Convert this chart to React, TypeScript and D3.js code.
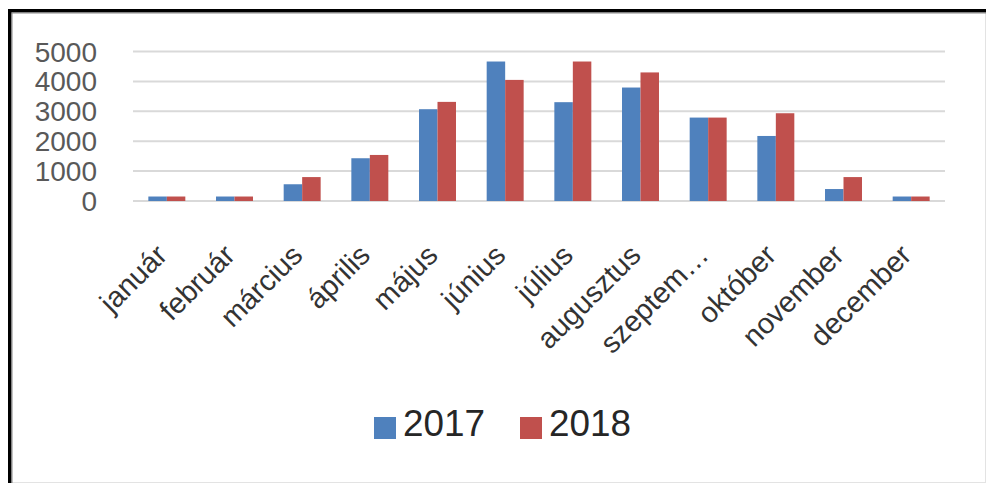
import React from "react";
import * as d3 from "d3";

const months = ["január", "február", "március", "április", "május", "június", "július", "augusztus", "szeptem…", "október", "november", "december"];
const series = ["2017", "2018"];
const values2017 = [150, 150, 560, 1430, 3070, 4665, 3305, 3795, 2790, 2175, 400, 150];
const values2018 = [150, 150, 800, 1540, 3315, 4050, 4665, 4300, 2790, 2935, 800, 150];
const yTicks = [0, 1000, 2000, 3000, 4000, 5000];
const colors = ["#4F81BD", "#C0504D"];

export default function App() {
  const W = 986, H = 483;
  const x0 = d3.scaleBand<string>().domain(months).range([133, 945]).paddingInner(0).paddingOuter(0);
  const x1 = d3.scaleBand<string>().domain(series).range([0, x0.step()]).paddingInner(0).paddingOuter(0.83);
  const y = d3.scaleLinear().domain([0, 5000]).range([201, 51.5]);
  const data = [values2017, values2018];
  const font = "'Liberation Sans', Arial, sans-serif";

  return (
    <svg width={W} height={H} style={{ position: "absolute", left: 0, top: 0, background: "#fff" }} fontFamily={font}>
      <rect x={0} y={0} width={W} height={H} fill="#fff" />
      {/* frame */}
      <line x1={985.5} y1={11} x2={985.5} y2={H} stroke="#e3e3e3" strokeWidth={1} />
      <line x1={10} y1={482.5} x2={W} y2={482.5} stroke="#e3e3e3" strokeWidth={1} />
      <rect x={8} y={9} width={W - 8} height={3.5} fill="#000" />
      <rect x={8} y={12.5} width={W - 8} height={1} fill="#888" />
      <rect x={8} y={9} width={3.5} height={H - 9} fill="#000" />
      <rect x={11.5} y={12.5} width={1} height={H - 12} fill="#888" />

      {/* gridlines */}
      {yTicks.map((t) => (
        <line key={t} x1={133} x2={945} y1={y(t)} y2={y(t)} stroke="#d9d9d9" strokeWidth={2} />
      ))}
      {/* y labels */}
      {yTicks.map((t) => (
        <text key={"l" + t} x={97} y={y(t)} dy="0.36em" textAnchor="end" fontSize={28} fill="#595959">
          {t}
        </text>
      ))}
      {/* bars */}
      {months.map((m, i) => (
        <g key={m} transform={`translate(${x0(m)},0)`}>
          {series.map((s, j) => (
            <rect
              key={s}
              x={x1(s)}
              y={y(data[j][i])}
              width={x1.bandwidth()}
              height={y(0) - y(data[j][i])}
              fill={colors[j]}
            />
          ))}
        </g>
      ))}
      {/* x labels */}
      {months.map((m) => {
        const cx = (x0(m) as number) + x0.bandwidth() / 2 + 2;
        return (
          <text
            key={"x" + m}
            transform={`translate(${cx},257) rotate(-45)`}
            textAnchor="end"
            fontSize={29}
            fill="#333"
          >
            {m}
          </text>
        );
      })}
      {/* legend */}
      {series.map((s, j) => {
        const lx = j === 0 ? 374 : 520;
        return (
          <g key={"lg" + s}>
            <rect x={lx} y={417} width={22} height={22} fill={colors[j]} />
            <text x={lx + 29} y={436} fontSize={37} fill="#262626" textLength={82} lengthAdjust="spacingAndGlyphs">
              {s}
            </text>
          </g>
        );
      })}
    </svg>
  );
}
